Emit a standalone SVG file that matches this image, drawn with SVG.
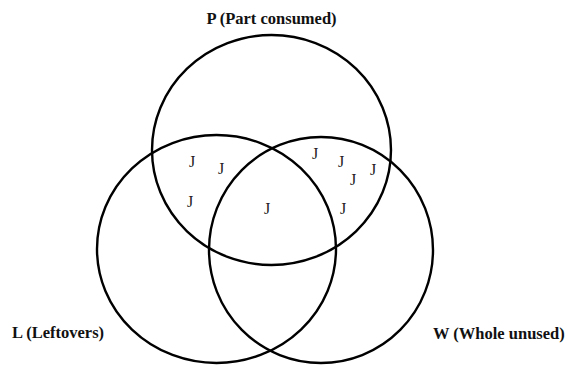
<svg xmlns="http://www.w3.org/2000/svg" width="568" height="365" viewBox="0 0 568 365">
<style>
.set{fill:none;stroke:#000;stroke-width:2.4}
.lbl{font-family:"Liberation Serif","DejaVu Serif",serif;font-weight:bold;font-size:16.5px;fill:#111}
.j{font-family:"Liberation Serif","DejaVu Serif",serif;font-size:16px;fill:#222;text-anchor:middle}
</style>
<rect width="568" height="365" fill="#fff"/>
<g id="P">
<ellipse class="set" cx="271.5" cy="150" rx="119.5" ry="115"/>
<text class="lbl" x="271.5" y="24" text-anchor="middle">P (Part consumed)</text>
</g>
<g id="L">
<ellipse class="set" cx="216.5" cy="249" rx="119.5" ry="114"/>
<text class="lbl" x="12" y="338">L (Leftovers)</text>
</g>
<g id="W">
<ellipse class="set" cx="321" cy="250" rx="112" ry="113"/>
<text class="lbl" x="433" y="339">W (Whole unused)</text>
</g>
<g id="items">
<text class="j" x="192" y="167">J</text>
<text class="j" x="221" y="174">J</text>
<text class="j" x="190" y="207">J</text>
<text class="j" x="267" y="214">J</text>
<text class="j" x="315" y="159">J</text>
<text class="j" x="341" y="167">J</text>
<text class="j" x="353" y="185">J</text>
<text class="j" x="373" y="175">J</text>
<text class="j" x="343" y="214">J</text>
</g>
</svg>
